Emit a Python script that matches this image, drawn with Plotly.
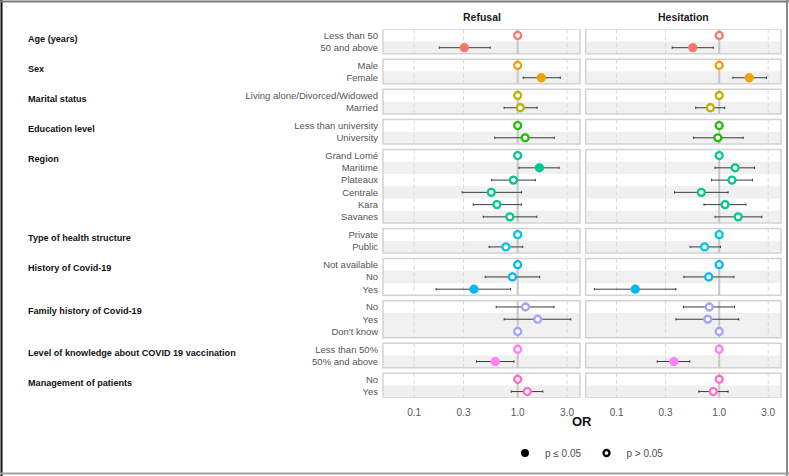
import plotly.graph_objects as go

# ---------------- data ----------------
groups = ["Age (years)", "Sex", "Marital status", "Education level", "Region",
          "Type of health structure", "History of Covid-19", "Family history of Covid-19",
          "Level of knowledge about COVID 19 vaccination", "Management of patients"]
group_sizes = [2, 2, 2, 2, 6, 2, 3, 3, 2, 2]
group_colors = ["#F8766D", "#F5A000", "#BDB200", "#1DBF00", "#00C98F",
                "#00C8E6", "#00B8F2", "#A3A3FF", "#FF80F8", "#FF6CC8"]
categories = ["Less than 50", "50 and above",
              "Male", "Female",
              "Living alone/Divorced/Widowed", "Married",
              "Less than university", "University",
              "Grand Lomé", "Maritime", "Plateaux", "Centrale", "Kara", "Savanes",
              "Private", "Public",
              "Not available", "No", "Yes",
              "No", "Yes", "Don't know",
              "Less than 50%", "50% and above",
              "No", "Yes"]
# shaded rows inside each panel (index within panel)
shaded_rows = [[1], [1], [1], [1], [1, 3, 5], [1], [1], [1, 2], [1], [1]]

refusal_or = [1, 0.305, 1, 1.69, 1, 1.06, 1, 1.18, 1, 1.62, 0.91, 0.556, 0.63, 0.84,
              1, 0.77, 1, 0.89, 0.378, 1.19, 1.56, 1, 1, 0.607, 1, 1.24]
refusal_lo = [1, 0.175, 1, 1.13, 1, 0.74, 1, 0.60, 1, 1.03, 0.56, 0.291, 0.372, 0.465,
              1, 0.53, 1, 0.486, 0.163, 0.62, 0.74, 1, 1, 0.40, 1, 0.867]
refusal_hi = [1, 0.543, 1, 2.58, 1, 1.54, 1, 2.26, 1, 2.51, 1.48, 1.09, 1.09, 1.53,
              1, 1.12, 1, 1.63, 0.855, 2.24, 3.26, 1, 1, 0.92, 1, 1.75]
refusal_sig = [0, 1, 0, 1, 0, 0, 0, 0, 0, 1, 0, 0, 0, 0,
               0, 0, 0, 0, 1, 0, 0, 0, 0, 1, 0, 0]

hesitation_or = [1, 0.553, 1, 1.96, 1, 0.82, 1, 0.97, 1, 1.43, 1.33, 0.67, 1.14, 1.53,
                 1, 0.72, 1, 0.79, 0.152, 0.80, 0.774, 1, 1, 0.361, 1, 0.875]
hesitation_lo = [1, 0.348, 1, 1.36, 1, 0.59, 1, 0.56, 1, 0.91, 0.84, 0.367, 0.71, 0.91,
                 1, 0.52, 1, 0.452, 0.0607, 0.449, 0.378, 1, 1, 0.249, 1, 0.633]
hesitation_hi = [1, 0.875, 1, 2.89, 1, 1.13, 1, 1.71, 1, 2.21, 2.11, 1.22, 1.82, 2.60,
                 1, 1.03, 1, 1.39, 0.378, 1.41, 1.55, 1, 1, 0.517, 1, 1.22]
hesitation_sig = [0, 1, 0, 1, 0, 0, 0, 0, 0, 0, 0, 0, 0, 0,
                  0, 0, 0, 0, 1, 0, 0, 0, 0, 1, 0, 0]

panel_titles = ["Refusal", "Hesitation"]
tick_vals = [0.1, 0.3, 1.0, 3.0]
tick_text = ["0.1", "0.3", "1.0", "3.0"]

# ---------------- layout helpers ----------------
W, H = 789, 476
FONT = "Liberation Sans, Arial, sans-serif"
GAP = 0.45

row_y = []
row_color = []
panels = []  # (top, bottom, group index)
c = 0.0
for gi, n in enumerate(group_sizes):
    panels.append((c, c + n, gi))
    for i in range(n):
        row_y.append(c + i + 0.5)
        row_color.append(group_colors[gi])
    c += n + GAP
total = c - GAP

fig = go.Figure()

series = [(refusal_or, refusal_lo, refusal_hi, refusal_sig, "x"),
          (hesitation_or, hesitation_lo, hesitation_hi, hesitation_sig, "x2")]
for orv, lo, hi, sig, xa in series:
    fills = [col if s else "white" for col, s in zip(row_color, sig)]
    fig.add_trace(go.Scatter(
        x=orv, y=row_y, xaxis=xa, yaxis="y", mode="markers", showlegend=False,
        marker=dict(symbol="circle", size=7, color=fills,
                    line=dict(color=row_color, width=2.3)),
        error_x=dict(type="data", symmetric=False,
                     array=[h - o for h, o in zip(hi, orv)],
                     arrayminus=[o - l for o, l in zip(orv, lo)],
                     color="#3a3a3a", thickness=1, width=1.2),
        hoverinfo="skip"))

# legend entries
fig.add_trace(go.Scatter(x=[None], y=[None], mode="markers", name="p ≤ 0.05",
                         marker=dict(symbol="circle", size=6, color="black",
                                     line=dict(color="black", width=2))))
fig.add_trace(go.Scatter(x=[None], y=[None], mode="markers", name="p > 0.05",
                         marker=dict(symbol="circle", size=6, color="white",
                                     line=dict(color="black", width=2.3))))

shapes = []
for xa in ["x", "x2"]:
    for top, bot, gi in panels:
        for r in shaded_rows[gi]:
            shapes.append(dict(type="rect", xref=xa + " domain", yref="y",
                               x0=0, x1=1, y0=top + r, y1=top + r + 1,
                               fillcolor="#f0f0f0", line=dict(width=0), layer="below"))
        for tv in [0.1, 0.3, 3.0]:
            shapes.append(dict(type="line", xref=xa, yref="y", x0=tv, x1=tv,
                               y0=top, y1=bot, layer="below",
                               line=dict(color="#d8d8d8", width=1, dash="4px,3px")))
        shapes.append(dict(type="line", xref=xa, yref="y", x0=1, x1=1,
                           y0=top, y1=bot, layer="below",
                           line=dict(color="#c6c6c6", width=2)))
        shapes.append(dict(type="rect", xref=xa + " domain", yref="y",
                           x0=0, x1=1, y0=top, y1=bot, layer="below",
                           line=dict(color="#d2d2d2", width=1.5)))

# outer frame
shapes += [
    dict(type="line", xref="paper", yref="paper", x0=1.5 / W, x1=1.5 / W, y0=0, y1=1,
         line=dict(color="#111111", width=2)),
    dict(type="line", xref="paper", yref="paper", x0=0, x1=1, y0=1 - 1.5 / H, y1=1 - 1.5 / H,
         line=dict(color="#7a7a7a", width=2)),
    dict(type="line", xref="paper", yref="paper", x0=787 / W, x1=787 / W, y0=0, y1=1,
         line=dict(color="#8a8a8a", width=2)),
    dict(type="line", xref="paper", yref="paper", x0=0, x1=1, y0=1 - 473.5 / H, y1=1 - 473.5 / H,
         line=dict(color="#a0a0a0", width=2)),
]

annotations = []
for top, bot, gi in panels:
    annotations.append(dict(text="<b>" + groups[gi] + "</b>", xref="paper", yref="y",
                            x=26 / W, y=top + 0.8, xanchor="left", yanchor="middle",
                            showarrow=False, font=dict(family=FONT, size=9.1, color="#111111")))
for i, xa in enumerate(["x", "x2"]):
    annotations.append(dict(text="<b>" + panel_titles[i] + "</b>", xref=xa + " domain",
                            yref="paper", x=0.5, y=1 - 17 / H, xanchor="center",
                            yanchor="middle", showarrow=False,
                            font=dict(family=FONT, size=10.5, color="#1a1a1a")))
annotations.append(dict(text="<b>OR</b>", xref="paper", yref="paper", x=582 / W,
                        y=1 - 421 / H, xanchor="center", yanchor="middle", showarrow=False,
                        font=dict(family=FONT, size=13, color="#111111")))

xcommon = dict(type="log", range=[-1.301, 0.602], tickvals=tick_vals, ticktext=tick_text,
               showgrid=False, zeroline=False, showline=False, anchor="y",
               ticks="outside", ticklen=5, tickcolor="rgba(0,0,0,0)",
               tickfont=dict(family=FONT, size=10, color="#555555"))

fig.update_layout(
    width=W, height=H, autosize=False,
    margin=dict(l=0, r=0, t=0, b=0),
    paper_bgcolor="white", plot_bgcolor="white",
    font=dict(family=FONT),
    xaxis=dict(domain=[383 / W, 580 / W], **xcommon),
    xaxis2=dict(domain=[585.7 / W, 781 / W], **xcommon),
    yaxis=dict(domain=[1 - 397.7 / H, 1 - 29.3 / H], range=[total, 0],
               tickvals=row_y, ticktext=categories, showgrid=False, zeroline=False,
               showline=False, ticks="outside", ticklen=2, tickcolor="rgba(0,0,0,0)",
               tickfont=dict(family=FONT, size=9.5, color="#555555")),
    shapes=shapes,
    annotations=annotations,
    showlegend=True,
    legend=dict(orientation="h", x=505 / W, y=1 - 453 / H, xanchor="left", yanchor="middle",
                font=dict(family=FONT, size=10, color="#4d4d4d"), bgcolor="rgba(0,0,0,0)",
                itemwidth=30, tracegroupgap=0),
)

fig.write_html("out.html")
